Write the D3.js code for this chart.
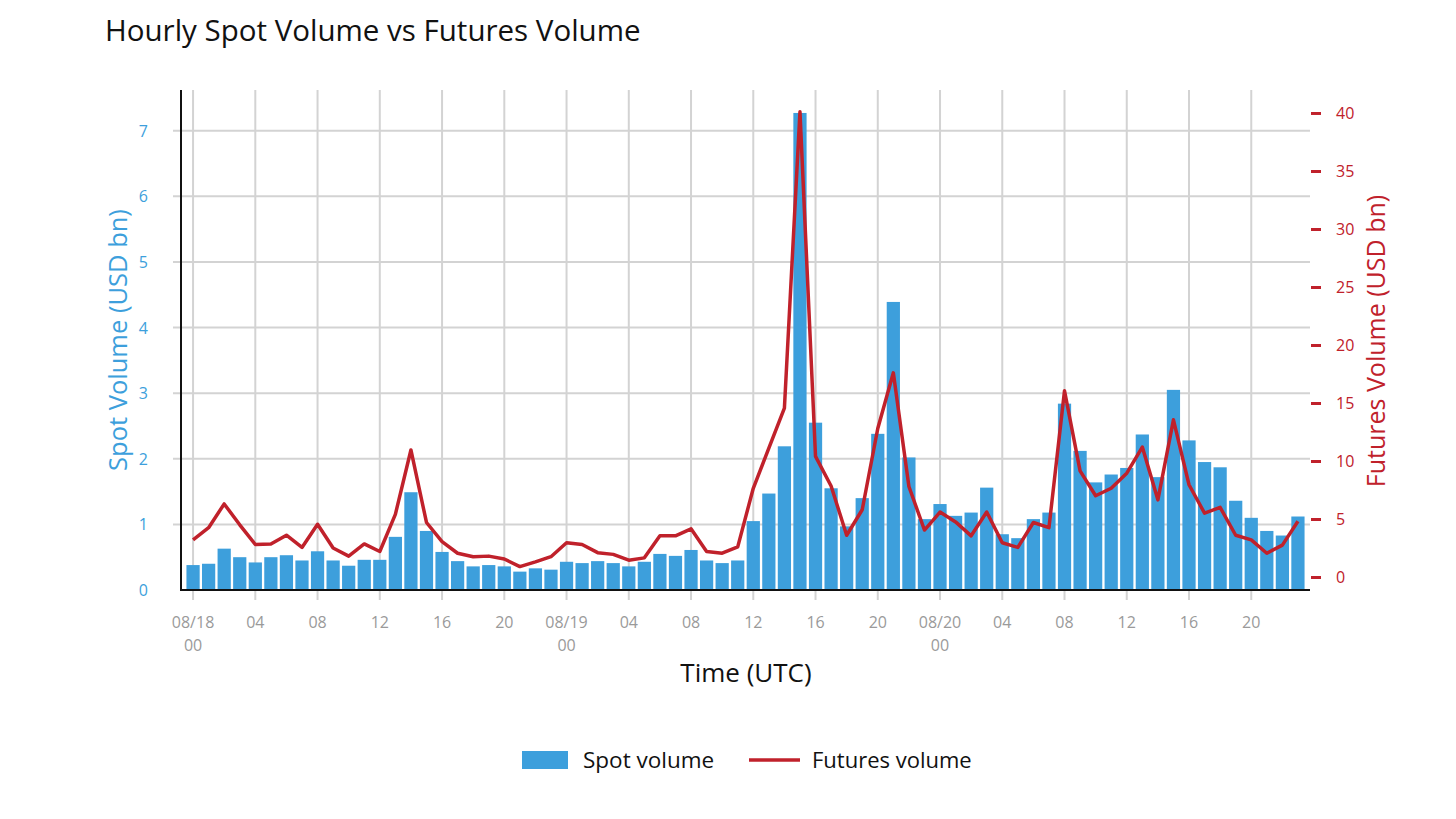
<!DOCTYPE html>
<html>
<head>
<meta charset="utf-8">
<script src="https://cdn.jsdelivr.net/npm/d3@7"></script>
<style>
  body { margin: 0; background: #fff; }
  text { font-family: 'Open Sans', 'Lato', sans-serif; }
</style>
</head>
<body>
<div id="chart"></div>
<script>
// Hourly spot vs futures volume, 08/18 00:00 to 08/20 23:00 UTC

// Data
const days = ['08/18', '08/19', '08/20']
const hours = d3.range(72)
const spotVolume = [
  0.38, 0.40, 0.63, 0.50, 0.42, 0.50, 0.53, 0.45, 0.59, 0.45, 0.37, 0.46,
  0.46, 0.81, 1.49, 0.90, 0.58, 0.44, 0.36, 0.38, 0.36, 0.28, 0.33, 0.31,
  0.43, 0.41, 0.44, 0.41, 0.36, 0.43, 0.55, 0.52, 0.61, 0.45, 0.41, 0.45,
  1.05, 1.47, 2.19, 7.27, 2.55, 1.55, 0.97, 1.40, 2.38, 4.39, 2.02, 1.08,
  1.31, 1.13, 1.18, 1.56, 0.85, 0.79, 1.08, 1.18, 2.84, 2.12, 1.64, 1.76,
  1.86, 2.37, 1.72, 3.05, 2.28, 1.95, 1.87, 1.36, 1.10, 0.90, 0.83, 1.12
]
const futuresVolume = [
  3.2, 4.25, 6.3, 4.5, 2.8, 2.85, 3.6, 2.55, 4.55, 2.5, 1.8, 2.85,
  2.2, 5.4, 10.95, 4.7, 3.05, 2.05, 1.75, 1.8, 1.55, 0.9, 1.3, 1.75,
  2.95, 2.8, 2.1, 1.95, 1.45, 1.65, 3.55, 3.55, 4.15, 2.2, 2.05, 2.6,
  7.65, 11.1, 14.55, 40.1, 10.4, 7.85, 3.6, 5.8, 12.8, 17.6, 7.8, 4.05,
  5.6, 4.75, 3.55, 5.6, 2.95, 2.55, 4.7, 4.25, 16.05, 9.15, 7.0, 7.65,
  8.95, 11.2, 6.65, 13.55, 7.95, 5.5, 6.0, 3.6, 3.2, 2.05, 2.75, 4.8
]
const spotTicks = [0, 1, 2, 3, 4, 5, 6, 7]
const futuresTicks = [0, 5, 10, 15, 20, 25, 30, 35, 40]

// Basic settings
let chart = {
  width: 1456,
  height: 819,
  left: 181,
  right: 1310,
  top: 90,
  bottom: 590,
  spotColor: '#3d9fdc',
  futuresColor: '#c0212b',
  gridColor: '#d3d3d3',
  tickLabelColor: '#9a9a9a',
  font: "'Open Sans', 'Lato', sans-serif",
}

chart.svg = d3.select('#chart')
  .append('svg')
  .attr('width', chart.width)
  .attr('height', chart.height)

// Scales
chart.x = d3.scaleBand()
  .domain(hours)
  .range([chart.left, chart.right])
  .paddingInner(0.15)
  .paddingOuter(0.35)

chart.ySpot = d3.scaleLinear()
  .domain([0, 7.62])
  .range([chart.bottom, chart.top])

chart.yFutures = d3.scaleLinear()
  .domain([-1.12, 41.98])
  .range([chart.bottom, chart.top])

let xCenter = (h) => chart.x(h) + chart.x.bandwidth() / 2
let labelHours = hours.filter((h) => h % 4 === 0)

// Grid
chart.svg.append('g')
  .selectAll('line')
  .data(spotTicks.slice(1))
  .enter()
  .append('line')
  .attr('x1', chart.left - 8)
  .attr('x2', chart.right)
  .attr('y1', (d) => chart.ySpot(d))
  .attr('y2', (d) => chart.ySpot(d))
  .attr('stroke', chart.gridColor)
  .attr('stroke-width', 2)

chart.svg.append('g')
  .selectAll('line')
  .data(labelHours)
  .enter()
  .append('line')
  .attr('x1', (d) => xCenter(d))
  .attr('x2', (d) => xCenter(d))
  .attr('y1', chart.top)
  .attr('y2', chart.bottom + 10)
  .attr('stroke', chart.gridColor)
  .attr('stroke-width', 2)

// Bars
chart.svg.append('g')
  .selectAll('rect')
  .data(spotVolume)
  .enter()
  .append('rect')
  .attr('x', (d, i) => chart.x(i))
  .attr('y', (d) => chart.ySpot(d))
  .attr('width', chart.x.bandwidth())
  .attr('height', (d) => chart.bottom - chart.ySpot(d))
  .attr('fill', chart.spotColor)

// Line
let futuresLine = d3.line()
  .x((d, i) => xCenter(i))
  .y((d) => chart.yFutures(d))

chart.svg.append('path')
  .datum(futuresVolume)
  .attr('d', futuresLine)
  .attr('fill', 'none')
  .attr('stroke', chart.futuresColor)
  .attr('stroke-width', 3.5)
  .attr('stroke-linejoin', 'round')

// Axes lines
chart.svg.append('line')
  .attr('x1', chart.left).attr('x2', chart.left)
  .attr('y1', chart.top).attr('y2', chart.bottom + 1)
  .attr('stroke', '#111').attr('stroke-width', 2)

chart.svg.append('line')
  .attr('x1', chart.left).attr('x2', chart.right)
  .attr('y1', chart.bottom).attr('y2', chart.bottom)
  .attr('stroke', '#111').attr('stroke-width', 2)

// Left axis labels
chart.svg.append('g')
  .selectAll('text')
  .data(spotTicks)
  .enter()
  .append('text')
  .attr('x', 148)
  .attr('y', (d) => chart.ySpot(d) + 6)
  .attr('text-anchor', 'end')
  .attr('fill', chart.spotColor)
  .style('font-size', '16px')
  .text((d) => d)

// Right axis with red ticks
let rightAxis = chart.svg.append('g')
  .attr('transform', `translate(${chart.right}, 0)`)
  .call(d3.axisRight(chart.yFutures)
    .tickValues(futuresTicks)
    .tickSize(10)
    .tickPadding(16))

rightAxis.select('.domain').remove()
rightAxis.selectAll('.tick line')
  .attr('stroke', chart.futuresColor)
  .attr('stroke-width', 3)
  .attr('transform', 'translate(1, 0)')
rightAxis.selectAll('.tick text')
  .attr('fill', chart.futuresColor)
  .style('font-size', '16px')
  .style('font-family', chart.font)

// Bottom axis labels
let xLabels = chart.svg.append('g')
  .selectAll('text')
  .data(labelHours)
  .enter()
  .append('text')
  .attr('x', (d) => xCenter(d))
  .attr('y', 628)
  .attr('text-anchor', 'middle')
  .attr('fill', chart.tickLabelColor)
  .style('font-size', '16px')

xLabels.each(function (d) {
  let hour = d % 24
  let label = d3.select(this)
  if (hour === 0) {
    label.append('tspan').attr('x', xCenter(d)).text(days[d / 24])
    label.append('tspan').attr('x', xCenter(d)).attr('dy', 23).text('00')
  } else {
    label.text(String(hour).padStart(2, '0'))
  }
})

// Titles
chart.svg.append('text')
  .attr('x', 105)
  .attr('y', 41)
  .style('font-size', '29.5px')
  .attr('fill', '#111')
  .text('Hourly Spot Volume vs Futures Volume')

chart.svg.append('text')
  .attr('x', 746)
  .attr('y', 682)
  .attr('text-anchor', 'middle')
  .style('font-size', '26px')
  .attr('fill', '#111')
  .text('Time (UTC)')

chart.svg.append('text')
  .attr('transform', 'translate(127, 340) rotate(-90)')
  .attr('text-anchor', 'middle')
  .style('font-size', '25.5px')
  .attr('fill', chart.spotColor)
  .text('Spot Volume (USD bn)')

chart.svg.append('text')
  .attr('transform', 'translate(1385, 341) rotate(-90)')
  .attr('text-anchor', 'middle')
  .style('font-size', '25px')
  .attr('fill', chart.futuresColor)
  .text('Futures Volume (USD bn)')

// Legend
let legend = chart.svg.append('g')

legend.append('rect')
  .attr('x', 522).attr('y', 751)
  .attr('width', 46).attr('height', 18)
  .attr('fill', chart.spotColor)

legend.append('text')
  .attr('x', 583).attr('y', 768)
  .style('font-size', '22.5px')
  .attr('fill', '#111')
  .text('Spot volume')

legend.append('line')
  .attr('x1', 749).attr('x2', 800)
  .attr('y1', 760).attr('y2', 760)
  .attr('stroke', chart.futuresColor)
  .attr('stroke-width', 3.5)

legend.append('text')
  .attr('x', 812).attr('y', 768)
  .style('font-size', '22px')
  .attr('fill', '#111')
  .text('Futures volume')
</script>
</body>
</html>
